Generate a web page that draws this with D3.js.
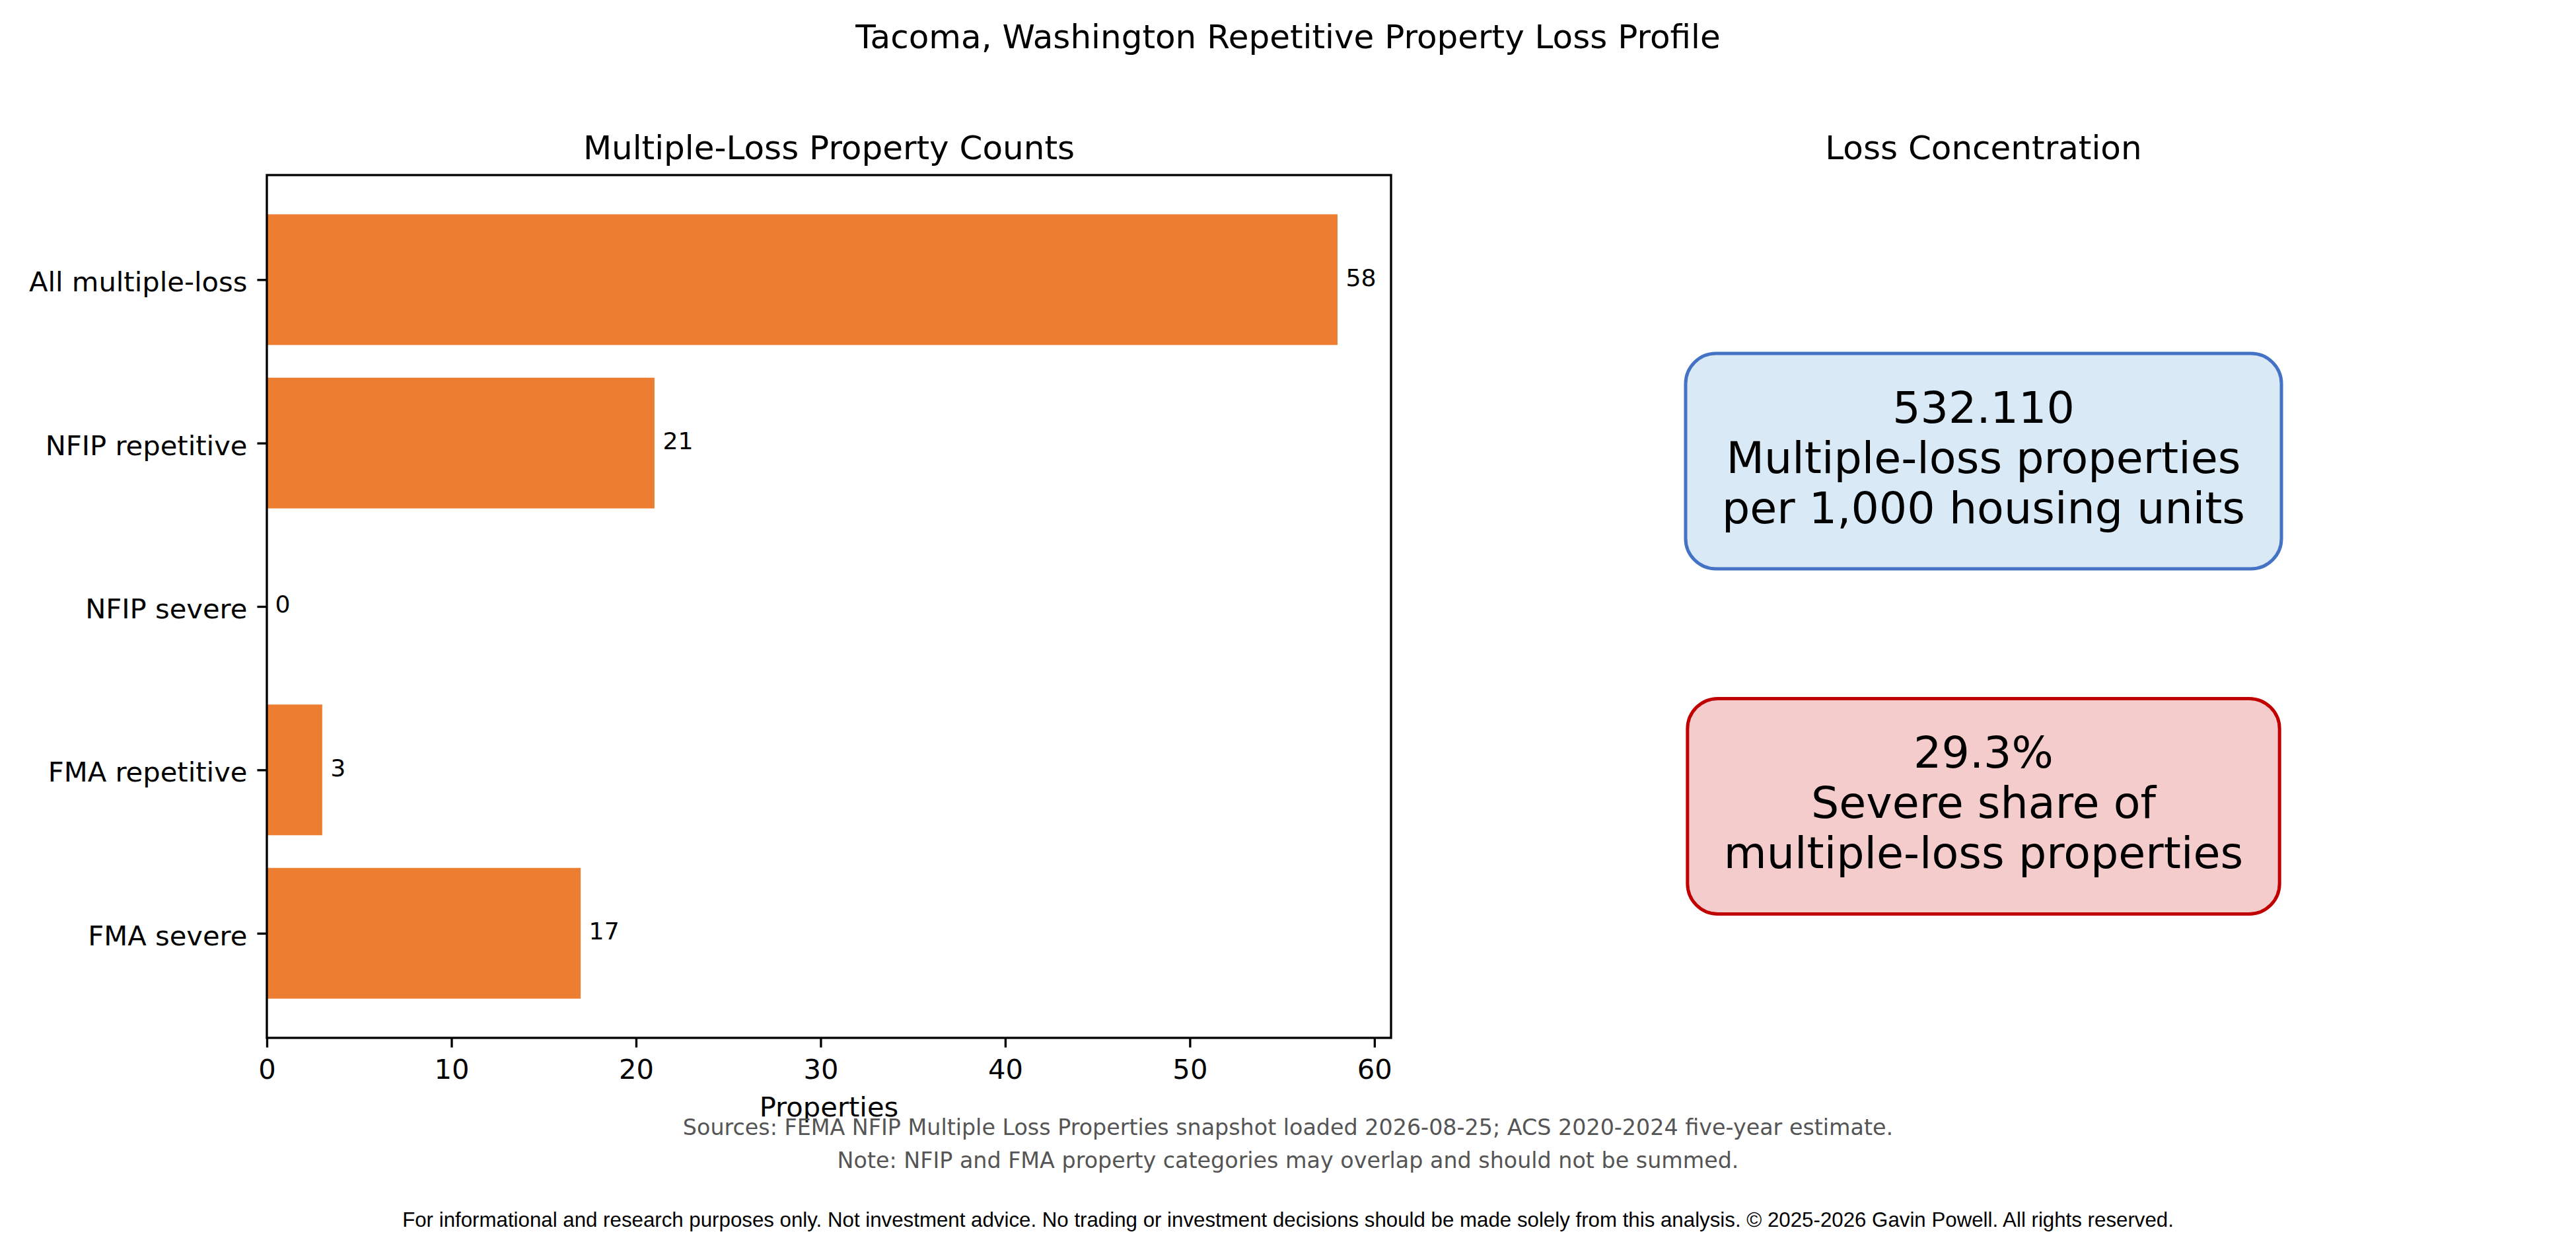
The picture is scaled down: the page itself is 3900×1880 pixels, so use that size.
<!DOCTYPE html>
<html>
<head>
<meta charset="utf-8">
<script src="https://cdn.jsdelivr.net/npm/d3@7"></script>
<style>
  html, body { margin: 0; padding: 0; background: #ffffff; }
  svg { display: block; }
  text { font-family: "DejaVu Sans", sans-serif; }
</style>
</head>
<body>
<svg id="chart" width="3900" height="1880"></svg>
<script>
// ---------------- DATA ----------------
const categories = ["All multiple-loss", "NFIP repetitive", "NFIP severe", "FMA repetitive", "FMA severe"];
const counts = [58, 21, 0, 3, 17];
const xTicks = [0, 10, 20, 30, 40, 50, 60];

const suptitle = "Tacoma, Washington Repetitive Property Loss Profile";
const leftTitle = "Multiple-Loss Property Counts";
const rightTitle = "Loss Concentration";
const xLabel = "Properties";

const metricLines = [
  ["532.110", "Multiple-loss properties", "per 1,000 housing units"],
  ["29.3%", "Severe share of", "multiple-loss properties"]
];
const metricPos = [0.67, 0.27];           // axes-fraction vertical positions
const metricFill = ["#d9e9f5", "#f4cccc"];
const metricStroke = ["#4472c4", "#c00000"];

const sourceLines = [
  "Sources: FEMA NFIP Multiple Loss Properties snapshot loaded 2026-08-25; ACS 2020-2024 five-year estimate.",
  "Note: NFIP and FMA property categories may overlap and should not be summed."
];
const disclaimer = "For informational and research purposes only. Not investment advice. No trading or investment decisions should be made solely from this analysis. \u00A9 2025-2026 Gavin Powell. All rights reserved.";

// ---------------- LAYOUT ----------------
const W = 3900, H = 1880;
const pt = 300 / 72;                       // px per point
const ax = { left: 404, right: 2106, top: 265, bottom: 1571 };
const rightCenterX = 3003;
const lw = 0.8 * pt;

const svg = d3.select("#chart");
svg.append("rect").attr("width", W).attr("height", H).attr("fill", "#fff");

const xMax = d3.max(counts) * 1.05;
const x = d3.scaleLinear().domain([0, xMax]).range([ax.left, ax.right]);
const pad = 0.05 * (categories.length - 1 + 0.8);
const y = d3.scaleLinear()
  .domain([-0.4 - pad, categories.length - 1 + 0.4 + pad])
  .range([ax.top, ax.bottom]);
const barH = 0.8;

// Suptitle
svg.append("text")
  .attr("x", W / 2).attr("y", 73)
  .attr("text-anchor", "middle")
  .attr("font-size", 12 * pt)
  .text(suptitle);

// Left title
svg.append("text")
  .attr("x", (ax.left + ax.right) / 2).attr("y", 241)
  .attr("text-anchor", "middle")
  .attr("font-size", 12 * pt)
  .text(leftTitle);

// Bars
svg.append("g").selectAll("rect")
  .data(counts)
  .join("rect")
  .attr("x", x(0))
  .attr("y", (d, i) => y(i - barH / 2))
  .attr("width", d => x(d) - x(0))
  .attr("height", (d, i) => y(i + barH / 2) - y(i - barH / 2))
  .attr("fill", "#ed7d31");

// Bar labels
svg.append("g").selectAll("text")
  .data(counts)
  .join("text")
  .attr("x", d => x(d) + 3 * pt)
  .attr("y", (d, i) => y(i))
  .attr("dy", "0.26em")
  .attr("font-size", 8.7 * pt)
  .text(d => d);

// X axis
const xAxis = d3.axisBottom(x)
  .tickValues(xTicks)
  .tickFormat(d3.format("d"))
  .tickSize(3.5 * pt)
  .tickPadding(17.5)
  .tickSizeOuter(0);
const gx = svg.append("g")
  .attr("transform", `translate(0,${ax.bottom})`)
  .call(xAxis);
gx.select(".domain").remove();
gx.selectAll(".tick line").attr("stroke", "#000").attr("stroke-width", lw);
gx.selectAll(".tick text")
  .attr("font-family", "DejaVu Sans")
  .attr("font-size", 10 * pt)
  .attr("fill", "#000");

// Y axis
const yAxis = d3.axisLeft(y)
  .tickValues(d3.range(categories.length))
  .tickFormat(i => categories[i])
  .tickSize(3.5 * pt)
  .tickPadding(15)
  .tickSizeOuter(0);
const gy = svg.append("g")
  .attr("transform", `translate(${ax.left},0)`)
  .call(yAxis);
gy.select(".domain").remove();
gy.selectAll(".tick line").attr("stroke", "#000").attr("stroke-width", lw);
gy.selectAll(".tick text")
  .attr("font-family", "DejaVu Sans")
  .attr("font-size", 10 * pt)
  .attr("fill", "#000")
  .attr("dy", "0.42em");

// Frame (spines)
svg.append("rect")
  .attr("x", ax.left).attr("y", ax.top)
  .attr("width", ax.right - ax.left).attr("height", ax.bottom - ax.top)
  .attr("fill", "none")
  .attr("stroke", "#000")
  .attr("stroke-width", lw);

// X label
svg.append("text")
  .attr("x", (ax.left + ax.right) / 2).attr("y", 1690)
  .attr("text-anchor", "middle")
  .attr("font-size", 10 * pt)
  .text(xLabel);

// ---------------- RIGHT PANEL ----------------
svg.append("text")
  .attr("x", rightCenterX).attr("y", 241)
  .attr("text-anchor", "middle")
  .attr("font-size", 12 * pt)
  .text(rightTitle);

const yr = d3.scaleLinear().domain([0, 1]).range([ax.bottom, ax.top]);
const fs = 16 * pt;
const lineGap = 76;
metricLines.forEach((lines, k) => {
  const cy = yr(metricPos[k]);
  const g = svg.append("g");
  const boxRect = g.append("rect");
  const firstBase = cy - lineGap * (lines.length - 1) / 2 + 0.3 * fs;
  const t = g.append("text")
    .attr("text-anchor", "middle")
    .attr("font-size", fs)
    .attr("fill", "#000");
  lines.forEach((ln, j) => {
    t.append("tspan")
      .attr("x", rightCenterX)
      .attr("y", firstBase + j * lineGap)
      .text(ln);
  });
  let maxW = 0;
  t.selectAll("tspan").each(function () {
    maxW = Math.max(maxW, this.getComputedTextLength());
  });
  const lastBase = firstBase + (lines.length - 1) * lineGap;
  const bx0 = rightCenterX - maxW / 2 - 55;
  const bx1 = rightCenterX + maxW / 2 + 55;
  const by0 = firstBase - 105;
  const by1 = lastBase + 69;
  boxRect
    .attr("x", bx0).attr("y", by0)
    .attr("width", bx1 - bx0).attr("height", by1 - by0)
    .attr("rx", 46).attr("ry", 46)
    .attr("fill", metricFill[k])
    .attr("stroke", metricStroke[k])
    .attr("stroke-width", 1.2 * pt);
});

// ---------------- FOOTER ----------------
sourceLines.forEach((s, i) => {
  svg.append("text")
    .attr("x", W / 2).attr("y", 1718 + i * 50)
    .attr("text-anchor", "middle")
    .attr("font-size", 8 * pt)
    .attr("fill", "#555555")
    .text(s);
});
svg.append("text")
  .attr("x", W / 2).attr("y", 1857)
  .attr("text-anchor", "middle")
  .style("font-family", "'Liberation Sans', Arial, sans-serif")
  .attr("font-size", 7.5 * pt)
  .attr("fill", "#000")
  .text(disclaimer);
</script>
</body>
</html>
